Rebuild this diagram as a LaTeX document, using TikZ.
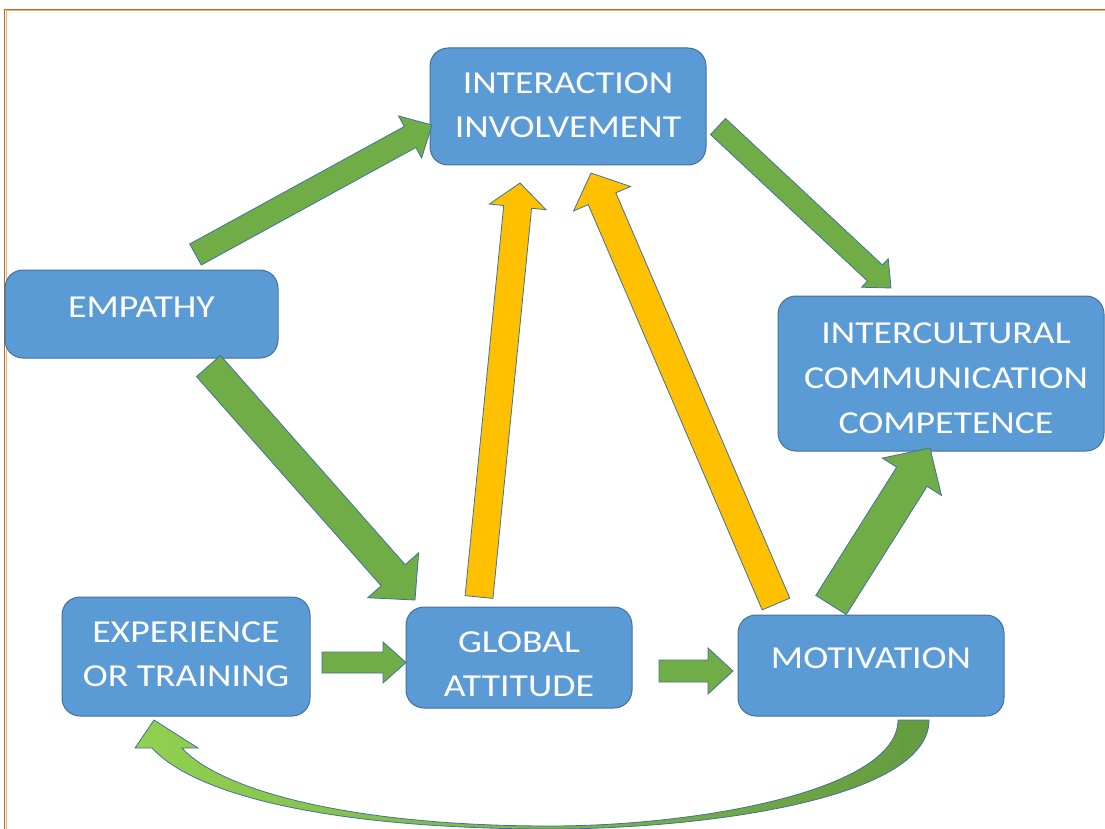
\documentclass[tikz,border=0pt]{standalone}
\usepackage{fontspec}
\setmainfont{Carlito}[FakeStretch=1.18]
\usetikzlibrary{calc}
\definecolor{boxfill}{HTML}{5B9BD5}
\definecolor{boxline}{HTML}{41719C}
\definecolor{arrgreen}{HTML}{70AD47}
\definecolor{arrlight}{HTML}{92D050}
\definecolor{arryellow}{HTML}{FFC000}
\definecolor{framedark}{HTML}{B06A28}
\definecolor{framelight}{HTML}{EDB27A}
\newcommand{\blockarrow}[6]{%
  \path ($(#2)!#5!(#1)$) coordinate (ba-h);
  \draw[#6] ($(#1)!#3!90:(#2)$) -- ($(ba-h)!#3!-90:(#1)$) -- ($(ba-h)!#4!-90:(#1)$) -- (#2)
    -- ($(ba-h)!#4!90:(#1)$) -- ($(ba-h)!#3!90:(#1)$) -- ($(#1)!#3!-90:(#2)$) -- cycle;
}
\newcommand{\shiftline}[2]{\raisebox{#1}[\height][\depth]{#2}}
\tikzset{
  box/.style={draw=boxline, fill=boxfill, line width=1pt, rounded corners=18pt,
    text=white, align=center, inner sep=0pt, font=\fontsize{32}{44}\selectfont},
  greenarrow/.style={fill=arrgreen, draw=boxline, line width=0.8pt, line join=miter},
  yellowarrow/.style={fill=arryellow, draw=boxline, line width=0.8pt, line join=miter},
}
\begin{document}
\begin{tikzpicture}[x=1pt,y=-1pt]
\useasboundingbox (0,0) rectangle (1105,829);
% frame
\draw[framelight, line width=1pt] (6,829) -- (6,11) -- (1105,11);
\draw[framedark, line width=1.2pt] (4.5,829) -- (4.5,9.5) -- (1105,9.5);
% boxes
\node[box, minimum width=276pt, minimum height=117pt] (inter) at (568,106.5)
  {\shiftline{1pt}{INTERACTION}\\\shiftline{1pt}{INVOLVEMENT}};
\node[box, minimum width=273pt, minimum height=88pt] (emp) at (141.5,314)
  {\shiftline{7pt}{EMPATHY}};
\node[box, minimum width=326pt, minimum height=155pt] (icc) at (941,373.5)
  {\hspace*{10pt}\shiftline{-4pt}{INTERCULTURAL}\\\hspace*{10pt}\shiftline{-5pt}{COMMUNICATION}\\\hspace*{10pt}\shiftline{-6pt}{COMPETENCE}};
\node[box, minimum width=248pt, minimum height=119pt] (exp) at (186,656.5)
  {\shiftline{2pt}{EXPERIENCE}\\\shiftline{2pt}{OR TRAINING}};
\node[box, minimum width=226pt, minimum height=101pt] (glob) at (519,657.5)
  {\shiftline{-7pt}{GLOBAL}\\\shiftline{-7pt}{ATTITUDE}};
\node[box, minimum width=266pt, minimum height=101pt] (mot) at (871,665.5)
  {\shiftline{7pt}{MOTIVATION}};
% arrow end points
\coordinate (e2i-s) at (195.5,254.5); \coordinate (e2i-t) at (432,125);
\coordinate (e2g-s) at (208.5,366);   \coordinate (e2g-t) at (415,600);
\coordinate (g2i-s) at (479,597);     \coordinate (g2i-t) at (520,183);
\coordinate (m2i-s) at (776,604);     \coordinate (m2i-t) at (591,173);
\coordinate (i2c-s) at (718,126.5);   \coordinate (i2c-t) at (891,288);
\coordinate (m2c-s) at (831,605);     \coordinate (m2c-t) at (930,448);
\coordinate (x2g-s) at (322,662.5);   \coordinate (x2g-t) at (406,662.5);
\coordinate (g2m-s) at (659,671);     \coordinate (g2m-t) at (733,671);
% arrows
\blockarrow{e2i-s}{e2i-t}{12pt}{24pt}{25pt}{greenarrow}
\blockarrow{e2g-s}{e2g-t}{16pt}{34pt}{33pt}{greenarrow}
\blockarrow{g2i-s}{g2i-t}{14pt}{28.5pt}{24pt}{yellowarrow}
\blockarrow{m2i-s}{m2i-t}{15pt}{31pt}{28pt}{yellowarrow}
\blockarrow{i2c-s}{i2c-t}{11pt}{19.5pt}{22pt}{greenarrow}
\blockarrow{m2c-s}{m2c-t}{18pt}{35pt}{34pt}{greenarrow}
\blockarrow{x2g-s}{x2g-t}{10.5pt}{20.5pt}{23pt}{greenarrow}
\blockarrow{g2m-s}{g2m-t}{11pt}{23pt}{25pt}{greenarrow}
% curved feedback arrow: motivation -> experience
\coordinate (loop-out) at (929,720);
\coordinate (loop-in) at (898,720);
\coordinate (loop-tip) at (154,720);
\path[draw=boxline, line width=0.8pt, left color=arrlight, right color=arrgreen!90!black, line join=miter]
  (loop-out) .. controls (929,800) and (700,829) .. (550,829)
  .. controls (350,829) and (200,800) .. (152,748)
  -- (135,748) -- (loop-tip) -- (198,748) -- (182,748)
  .. controls (220,790) and (350,826) .. (550,826)
  .. controls (700,826) and (898,790) .. (loop-in) -- cycle;
\end{tikzpicture}
\end{document}
